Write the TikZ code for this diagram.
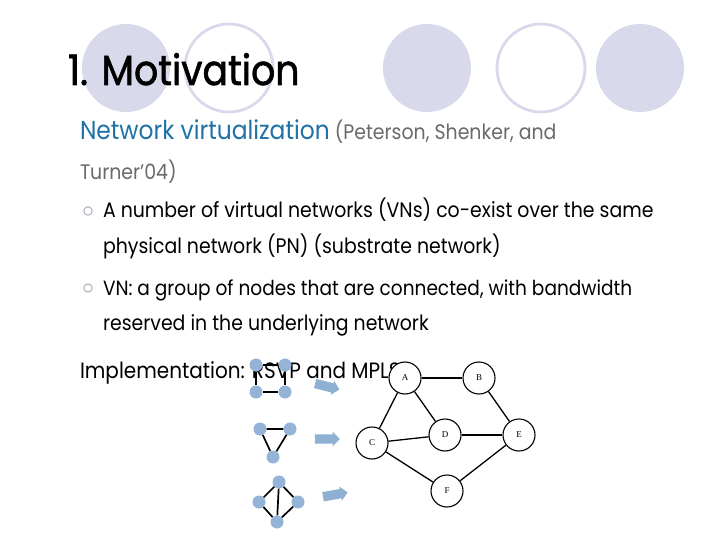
\documentclass[tikz,border=0pt]{standalone}
\usepackage{fontspec}
\setmainfont{Poppins}[FakeStretch=0.9]
\newfontfamily\titlefont{Poppins}[FakeStretch=0.9, FakeBold=1.5]
\newfontfamily\labfont{Liberation Serif}
\usetikzlibrary{shapes.arrows}
\definecolor{lav}{HTML}{D9D9EC}
\definecolor{nettitle}{HTML}{1F72A6}
\definecolor{graytext}{HTML}{6A6A6A}
\definecolor{vnode}{HTML}{95B3D7}
\definecolor{varrow}{HTML}{8DB0D3}
\definecolor{bulletc}{HTML}{A8A8B8}
\tikzset{
  txt/.style={anchor=base west, inner sep=0pt, outer sep=0pt},
  deco/.style={circle, minimum size=88pt, inner sep=0pt},
  decofill/.style={deco, fill=lav},
  decoline/.style={deco, draw=lav, line width=2.8pt, fill=white},
  pn/.style={circle, draw=black, fill=white, line width=1.1pt, minimum size=32pt, inner sep=0pt, font=\labfont\fontsize{9}{9}\selectfont},
  pe/.style={line width=1.3pt},
  vn/.style={circle, fill=vnode, minimum size=13pt, inner sep=0pt},
  ve/.style={line width=1.7pt},
  blk/.style={single arrow, fill=varrow, minimum height=25pt, inner xsep=0pt, inner ysep=4.5pt, single arrow head extend=2.5pt, single arrow head indent=0pt, outer sep=0pt},
  bul/.style={circle, draw=bulletc, line width=0.9pt, minimum size=8.5pt, inner sep=0pt}
}
\begin{document}
\begin{tikzpicture}[x=1pt, y=-1pt]
\useasboundingbox (0,0) rectangle (720,540);
\fill[white] (0,0) rectangle (720,540);
% decorative circles
\node[decofill] (c1) at (126,68) {};
\node[decoline] (c2) at (229,68) {};
\node[decofill] (c3) at (427,68) {};
\node[decoline] (c4) at (541,68) {};
\node[decofill] (c5) at (640,68) {};
% title
\node[txt, font=\titlefont\fontsize{42}{42}\selectfont] (title) at (68,85) {1. Motivation};
% text
\node[txt, font=\fontsize{26}{26}\selectfont, text=nettitle] (nv) at (80,140) {Network virtualization};
\node[txt, font=\fontsize{21}{21}\selectfont, text=graytext] (pet) at (nv.base east) {\ (Peterson, Shenker, and};
\node[txt, font=\fontsize{21}{21}\selectfont, text=graytext] (tur) at (80,180) {Turner’04)};
\node[bul] (b1) at (88,211) {};
\node[txt, font=\fontsize{21}{21}\selectfont] (l1) at (103,218) {A number of virtual networks (VNs) co-exist over the same};
\node[txt, font=\fontsize{21}{21}\selectfont] (l2) at (103,253) {physical network (PN) (substrate network)};
\node[bul] (b2) at (88,288) {};
\node[txt, font=\fontsize{20.6}{21}\selectfont] (l3) at (103,295) {VN: a group of nodes that are connected, with bandwidth};
\node[txt, font=\fontsize{21}{21}\selectfont] (l4) at (103,330) {reserved in the underlying network};
\node[txt, font=\fontsize{22.2}{22}\selectfont] (impl) at (80,378) {Implementation: RSVP and MPLS};
% virtual network 1: square
\node[vn] (s1) at (256,365) {};
\node[vn] (s2) at (285,365) {};
\node[vn] (s3) at (256,392) {};
\node[vn] (s4) at (285,392) {};
\draw[ve] (s1) -- (s2) -- (s4) -- (s3) -- (s1);
% virtual network 2: triangle
\node[vn] (t1) at (260,429) {};
\node[vn] (t2) at (290,429) {};
\node[vn] (t3) at (273,457) {};
\draw[ve] (t1) -- (t2) -- (t3) -- (t1);
% virtual network 3: diamond
\node[vn] (d1) at (279,482) {};
\node[vn] (d2) at (259,502) {};
\node[vn] (d3) at (298,502) {};
\node[vn] (d4) at (277,522) {};
\draw[ve] (d1) -- (d2) -- (d4) -- (d3) -- (d1) -- (d4);
% block arrows
\node[blk, rotate=-14] (a1) at (325,386) {};
\node[blk] (a2) at (325,439) {};
\node[blk, rotate=10] (a3) at (333,495) {};
% physical network
\node[pn] (A) at (405,378) {A};
\node[pn] (B) at (479,378) {B};
\node[pn] (C) at (372,443) {C};
\node[pn] (D) at (445,435) {D};
\node[pn] (E) at (519,435) {E};
\node[pn] (F) at (447,491) {F};
\draw[pe] (A) -- (B);
\draw[pe] (A) -- (C);
\draw[pe] (A) -- (D);
\draw[pe] (B) -- (E);
\draw[pe] (C) -- (D);
\draw[pe] (C) -- (F);
\draw[pe] (D) -- (E);
\draw[pe] (E) -- (F);
\end{tikzpicture}
\end{document}
